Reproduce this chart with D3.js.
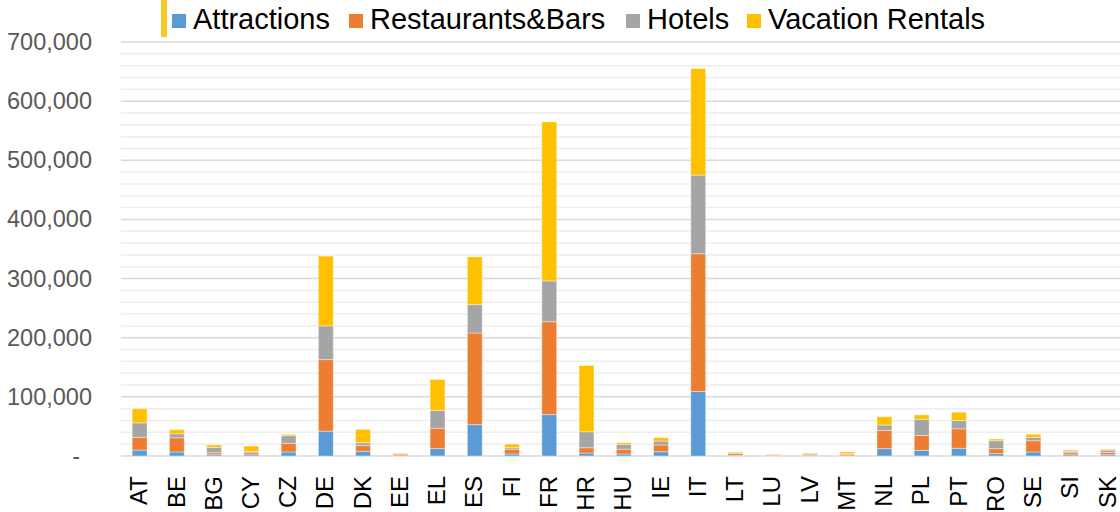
<!DOCTYPE html>
<html>
<head>
<meta charset="utf-8">
<script src="https://cdn.jsdelivr.net/npm/d3@7"></script>
<style>
  body { margin: 0; background: #fff; }
  svg { display: block; font-family: "Liberation Sans", Arial, sans-serif; }
</style>
</head>
<body>
<svg id="canvas" width="1120" height="512"></svg>
<script>
// chart data
let countries = ['AT', 'BE', 'BG', 'CY', 'CZ', 'DE', 'DK', 'EE', 'EL', 'ES', 'FI', 'FR', 'HR', 'HU',
                 'IE', 'IT', 'LT', 'LU', 'LV', 'MT', 'NL', 'PL', 'PT', 'RO', 'SE', 'SI', 'SK']

let attractions = [10000, 6800, 2200, 2200, 6800, 42000, 8000, 500, 12500, 53000, 3400, 70000, 5000, 3400,
                   7300, 109000, 1000, 500, 1000, 500, 12400, 9600, 13000, 4000, 6800, 2200, 2200]
let restaurantsBars = [21500, 24000, 3400, 3400, 14600, 121000, 9500, 2500, 34500, 155000, 8000, 157000, 9000, 8000,
                       11300, 233000, 3000, 1200, 2000, 2500, 31000, 25000, 33000, 8400, 19000, 3400, 4000]
let hotels = [24500, 6700, 9000, 2300, 12900, 57000, 5000, 1000, 30000, 48000, 2700, 69000, 27000, 8400,
              6700, 133000, 1500, 600, 1500, 1000, 9000, 27500, 14000, 13500, 5500, 2300, 3800]
let vacationRentals = [24000, 7000, 4000, 9000, 2300, 118000, 22500, 1000, 52500, 80700, 6000, 269000, 112000, 2800,
                       5700, 180000, 1500, 500, 700, 3000, 14000, 7500, 14000, 2800, 5500, 2100, 1300]

let seriesNames = ['Attractions', 'Restaurants&Bars', 'Hotels', 'Vacation Rentals']
let seriesColors = ['#5B9BD5', '#ED7D31', '#A5A5A5', '#FFC000']
let yTicks = [0, 100000, 200000, 300000, 400000, 500000, 600000, 700000]

let canvas = d3.select('#canvas')

// build rows for d3.stack
let rows = countries.map((c, i) => {
    return {
        country: c,
        'Attractions': attractions[i],
        'Restaurants&Bars': restaurantsBars[i],
        'Hotels': hotels[i],
        'Vacation Rentals': vacationRentals[i]
    }
})

let plotLeft = 121
let plotRight = 1126.5
let plotTop = 42
let plotBottom = 456

let xScale = d3.scaleBand()
    .domain(countries)
    .range([plotLeft, plotRight])
    .paddingInner(0.6)
    .paddingOuter(0.3)

let yScale = d3.scaleLinear()
    .domain([0, 700000])
    .range([plotBottom, plotTop])

// minor gridlines every 20,000
let minorTicks = d3.range(20000, 700001, 20000).filter(v => v % 100000 !== 0)
canvas.append('g')
    .selectAll('line')
    .data(minorTicks)
    .enter()
    .append('line')
    .attr('x1', plotLeft)
    .attr('x2', 1120)
    .attr('y1', d => yScale(d))
    .attr('y2', d => yScale(d))
    .attr('stroke', '#eeeeee')
    .attr('stroke-width', 1.5)

// major gridlines
canvas.append('g')
    .selectAll('line')
    .data(yTicks)
    .enter()
    .append('line')
    .attr('x1', plotLeft)
    .attr('x2', 1120)
    .attr('y1', d => yScale(d))
    .attr('y2', d => yScale(d))
    .attr('stroke', '#d9d9d9')
    .attr('stroke-width', 1.5)

// y axis labels (zero shown as a dash, accounting style)
let yAxis = d3.axisLeft(yScale)
    .tickValues(yTicks)
    .tickSize(0)
    .tickPadding(0)
    .tickFormat(d => d === 0 ? '-' : d3.format(',')(d))

let yAxisGroup = canvas.append('g')
    .attr('transform', 'translate(92,0)')
    .call(yAxis)
yAxisGroup.select('.domain').remove()
yAxisGroup.selectAll('text')
    .attr('fill', '#595959')
    .attr('font-size', 23.5)
    .attr('font-family', '"Liberation Sans", Arial, sans-serif')
    .attr('x', d => d === 0 ? -12 : 0)

// stacked bars
let stacked = d3.stack().keys(seriesNames)(rows)

let layers = canvas.append('g')
    .selectAll('g')
    .data(stacked)
    .enter()
    .append('g')
    .attr('fill', (d, i) => seriesColors[i])

layers.selectAll('rect')
    .data(d => d)
    .enter()
    .append('rect')
    .attr('x', d => xScale(d.data.country))
    .attr('width', xScale.bandwidth())
    .attr('y', d => yScale(d[1]))
    .attr('height', d => yScale(d[0]) - yScale(d[1]))
    .attr('stroke', '#ffffff')
    .attr('stroke-opacity', 0.4)
    .attr('stroke-width', 1)

// x axis labels, rotated
let xAxis = d3.axisBottom(xScale).tickSize(0).tickPadding(0)
let xAxisGroup = canvas.append('g')
    .attr('transform', `translate(0,${plotBottom})`)
    .call(xAxis)
xAxisGroup.select('.domain').remove()
xAxisGroup.selectAll('text')
    .attr('fill', '#000')
    .attr('font-size', 24)
    .attr('font-family', '"Liberation Sans", Arial, sans-serif')
    .attr('transform', 'rotate(-90)')
    .attr('text-anchor', 'end')
    .attr('x', -20)
    .attr('y', -1)
    .attr('dy', '0.36em')

// stray yellow marker at the top left of the legend
canvas.append('rect')
    .attr('x', 161)
    .attr('y', 0)
    .attr('width', 6)
    .attr('height', 37)
    .attr('fill', '#F7C824')

// legend
let legendX = [172, 349, 626, 747]
let legend = canvas.append('g')
    .selectAll('g')
    .data(seriesNames)
    .enter()
    .append('g')
    .attr('transform', (d, i) => `translate(${legendX[i]},0)`)

legend.append('rect')
    .attr('x', 0)
    .attr('y', 14)
    .attr('width', 14)
    .attr('height', 14)
    .attr('fill', (d, i) => seriesColors[i])

legend.append('text')
    .attr('x', 21)
    .attr('y', 29)
    .attr('font-size', 29)
    .attr('fill', '#000')
    .text(d => d)
</script>
</body>
</html>
